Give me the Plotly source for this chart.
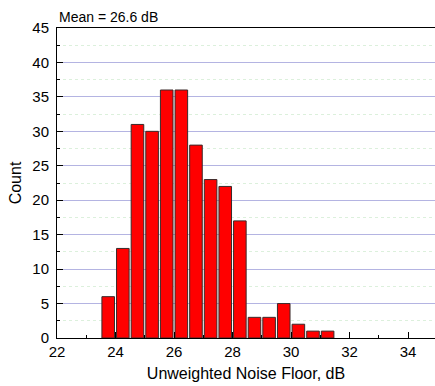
import plotly.graph_objects as go

# Histogram of unweighted noise floor (0.5 dB bins)
bin_centers = [23.75, 24.25, 24.75, 25.25, 25.75, 26.25, 26.75, 27.25,
               27.75, 28.25, 28.75, 29.25, 29.75, 30.25, 30.75, 31.25]
counts = [6, 13, 31, 30, 36, 36, 28, 23, 22, 17, 3, 3, 5, 2, 1, 1]
x_ticks = [22, 24, 26, 28, 30, 32, 34]
y_ticks = [0, 5, 10, 15, 20, 25, 30, 35, 40, 45]
mean_label = "Mean = 26.6 dB"

FONT = "Arial, Liberation Sans, sans-serif"

fig = go.Figure()
fig.add_trace(go.Bar(
    x=bin_centers,
    y=counts,
    width=0.43,
    marker=dict(color="#ff0000", line=dict(color="#3a2a2a", width=1)),
))

fig.update_layout(
    width=435, height=386,
    margin=dict(l=57, r=0, t=28, b=48),
    plot_bgcolor="white",
    paper_bgcolor="white",
    showlegend=False,
    font=dict(family=FONT, color="black"),
    annotations=[dict(
        text=mean_label, xref="paper", yref="paper",
        x=0.0, y=1.0, xanchor="left", yanchor="bottom", yshift=1,
        showarrow=False, font=dict(family=FONT, size=14, color="black"),
    )],
)

fig.update_xaxes(
    range=[22, 34.92],
    tickvals=x_ticks,
    ticks="inside", ticklen=6, tickwidth=1, tickcolor="black",
    showline=True, linecolor="black", linewidth=1, mirror=True,
    showgrid=False, zeroline=False,
    tickfont=dict(size=15),
    minor=dict(dtick=1, ticks="inside", ticklen=3, tickcolor="black"),
    title=dict(text="Unweighted Noise Floor, dB", font=dict(size=16), standoff=8),
)

fig.update_yaxes(
    range=[0, 45],
    tickvals=y_ticks,
    ticks="inside", ticklen=6, tickwidth=1, tickcolor="black",
    ticklabelstandoff=4,
    showline=True, linecolor="black", linewidth=1,
    showgrid=True, gridcolor="#b4b4e2", gridwidth=1,
    zeroline=False,
    tickfont=dict(size=15),
    minor=dict(dtick=2.5, tick0=2.5, ticks="inside", ticklen=3, tickcolor="black",
               showgrid=True, gridcolor="#dcf0dc", griddash="dot", gridwidth=1),
    title=dict(text="Count", font=dict(size=16), standoff=6),
)

fig.write_html("out.html")
